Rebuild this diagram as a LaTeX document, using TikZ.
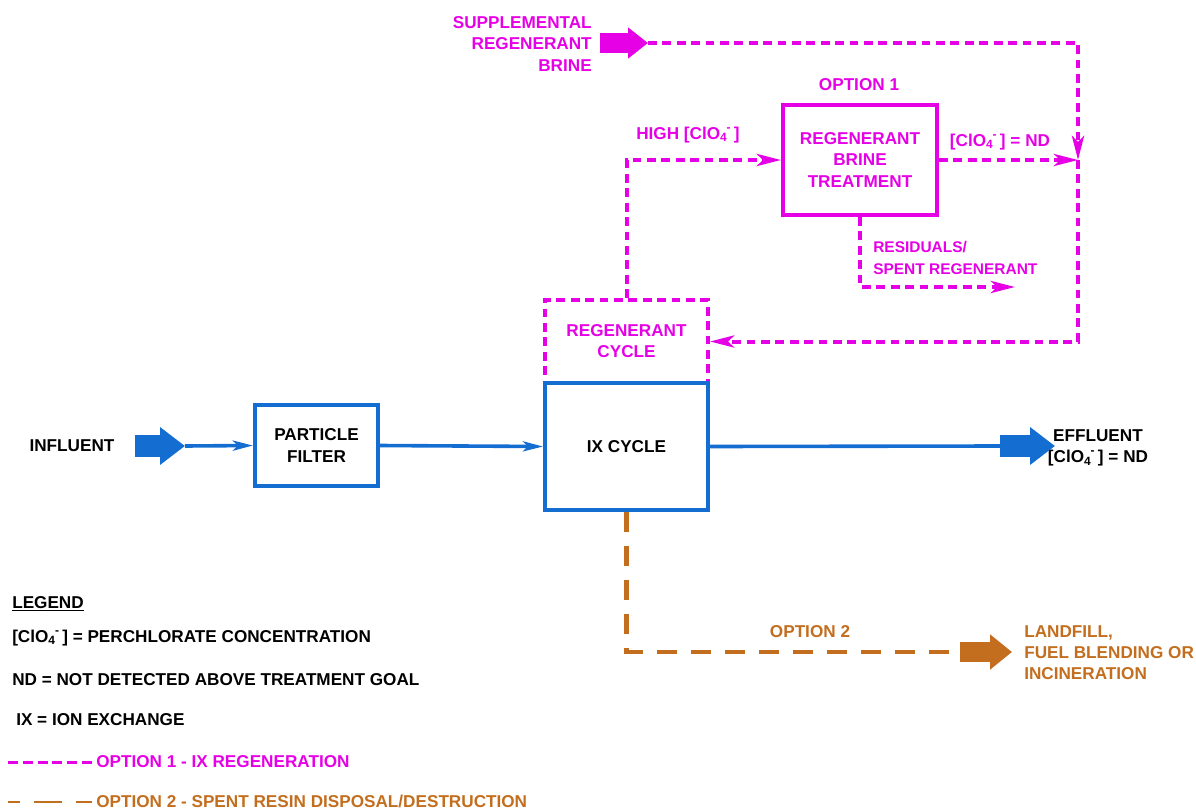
\documentclass[tikz,border=0pt]{standalone}
\usepackage{fontspec}
\setmainfont{Liberation Sans}
\usepackage{xcolor}
\usetikzlibrary{arrows.meta}

\definecolor{flowblue}{RGB}{20,110,210}
\definecolor{regenpink}{RGB}{230,0,230}
\definecolor{resinbrown}{RGB}{195,110,30}
\newcommand{\cloion}{[ClO\textsubscript{4}\hspace{-0.05em}\raisebox{0.25ex}{\textsuperscript{-}}\hspace{0.15em}]}

\begin{document}
\begin{tikzpicture}[x=0.025cm, y=-0.025cm, font=\fontsize{12.2}{15}\selectfont\bfseries]
        \tikzset{box style/.style={draw=flowblue, line width=0.1cm, rectangle, inner sep=0pt, align=center, text=black}}
        \tikzset{regen box/.style={draw=regenpink, line width=0.1cm, rectangle, inner sep=0pt, align=center, text=regenpink}}
        \tikzset{text style/.style={inner sep=0pt, align=center}}
        \tikzset{flow line/.style={draw=flowblue, line width=0.09cm, -{Stealth[length=0.5cm, width=0.25cm, inset=0.12cm]}}}
        \tikzset{regen line/.style={draw=regenpink, line width=0.1cm, dash pattern=on 0.22cm off 0.14cm, -{Stealth[length=0.6cm, width=0.3cm, inset=0.15cm]}}}
        \tikzset{resin line/.style={draw=resinbrown, line width=0.12cm, dash pattern=on 0.5cm off 0.35cm}}
        \tikzset{big arrow/.style={line width=0.55cm, -{Triangle[length=0.62cm, width=0.9cm]}}}

        \useasboundingbox (0,0) rectangle (1196,809);

        % main flow
        \node[text style] (influent) at (72,446) {INFLUENT};
        \node[box style, minimum width=3.075cm, minimum height=2.025cm] (filter) at (316.5,445.5) {PARTICLE\\FILTER};
        \node[regen box, dashed, dash pattern=on 0.22cm off 0.14cm, minimum width=4.075cm, minimum height=2.075cm] (regencycle) at (626.5,341.5) {REGENERANT\\CYCLE};
        \node[box style, fill=white, minimum width=4.075cm, minimum height=3.175cm] (ixcycle) at (626.5,446.5) {IX CYCLE};
        \node[text style] (effluent) at (1098,448) {EFFLUENT\\\cloion{} = ND};

        \coordinate (influentA) at (135,446);
        \coordinate (influentB) at (185,446);
        \coordinate (effluentA) at (1000,446);
        \coordinate (effluentB) at (1055,446);

        \draw[big arrow, flowblue] (influentA) -- (influentB);
        \draw[flow line] (influentB) -- (filter.west);
        \draw[flow line] (filter.east) -- (ixcycle.west);
        \draw[draw=flowblue, line width=0.09cm] (ixcycle.east) -- (effluentA);
        \draw[big arrow, flowblue] (effluentA) -- (effluentB);

        % option 1
        \node[text style, text=regenpink, align=right, anchor=east] (supplemental) at (592,44) {SUPPLEMENTAL\\REGENERANT\\BRINE};
        \node[text style, text=regenpink] (option1) at (859,85) {OPTION 1};
        \node[regen box, minimum width=3.85cm, minimum height=2.75cm] (brine) at (860,160) {REGENERANT\\BRINE\\TREATMENT};
        \node[text style, text=regenpink] (high) at (688,135) {HIGH \cloion};
        \node[text style, text=regenpink] (treated) at (1000,142) {\cloion{} = ND};
        \node[text style, text=regenpink, align=left, anchor=west, font=\fontsize{11}{15}\selectfont\bfseries] (residuals) at (873,258) {RESIDUALS/\\SPENT REGENERANT};

        \coordinate (suppA) at (600,43);
        \coordinate (suppB) at (648,43);
        \coordinate (junction) at (1078,160);
        \coordinate (residualsend) at (1015,287);

        \draw[big arrow, regenpink, line width=0.5cm, -{Triangle[length=0.5cm, width=0.75cm]}] (suppA) -- (suppB);
        \draw[regen line] (suppB) -| (junction);
        \draw[regen line] (regencycle.north) |- (brine.west);
        \draw[regen line] (brine.east) -- (junction);
        \draw[regen line] (brine.south) |- (residualsend);
        \draw[regen line] (junction) |- (regencycle.east);

        % option 2
        \node[text style, text=resinbrown] (option2) at (810,632) {OPTION 2};
        \node[text style, text=resinbrown, align=left, anchor=west] (landfill) at (1024,653) {LANDFILL,\\FUEL BLENDING OR\\INCINERATION};

        \coordinate (resinA) at (960,652);
        \coordinate (resinB) at (1012,652);

        \draw[resin line] (ixcycle.south) |- (resinA);
        \draw[big arrow, resinbrown, line width=0.5cm, -{Triangle[length=0.55cm, width=0.85cm]}] (resinA) -- (resinB);

        % legend
        \node[text style, anchor=west] (legend) at (12,604) {\underline{LEGEND}};
        \node[text style, anchor=west] (legendclo) at (12,638) {\cloion{} = PERCHLORATE CONCENTRATION};
        \node[text style, anchor=west] (legendnd) at (12,680) {ND = NOT DETECTED ABOVE TREATMENT GOAL};
        \node[text style, anchor=west] (legendix) at (16,720) {IX = ION EXCHANGE};
        \node[text style, anchor=west, text=regenpink] (legendopt1) at (96,762) {OPTION 1 - IX REGENERATION};
        \node[text style, anchor=west, text=resinbrown] (legendopt2) at (96,801) {OPTION 2 - SPENT RESIN DISPOSAL/DESTRUCTION};

        \coordinate (keyA) at (8,762);
        \coordinate (keyB) at (8,802);
        \draw[draw=regenpink, line width=0.075cm, dash pattern=on 0.25cm off 0.12cm] (keyA) -- (legendopt1.west);
        \draw[draw=resinbrown, line width=0.06cm, dash pattern=on 0.3cm off 0.35cm on 0.7cm off 0.35cm on 0.4cm] (keyB) -- (legendopt2.west |- keyB);
    \end{tikzpicture}
\end{document}
